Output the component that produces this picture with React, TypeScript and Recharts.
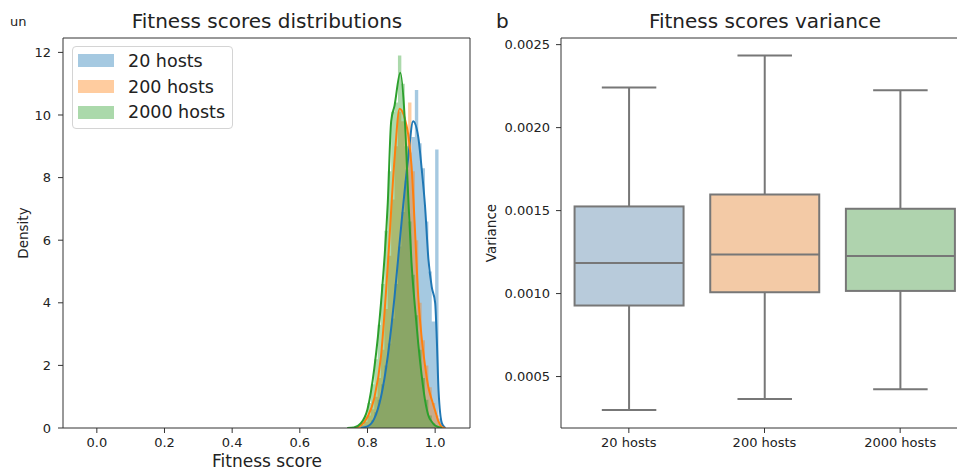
import React from 'react';
import { ComposedChart, Area, Line, Bar, XAxis, YAxis, ReferenceLine, Legend } from 'recharts';

const FONT = '"DejaVu Sans", Verdana, sans-serif';
const AXIS = '#333';
const TEXT = '#222';

const SERIES = ['20 hosts', '200 hosts', '2000 hosts'];
const COLORS = ['#1f77b4', '#ff7f0e', '#2ca02c'];
const BOX_FILLS = ['#b8cbdb', '#f3caa6', '#afd3ae'];

const X_TICKS = [0, 0.2, 0.4, 0.6, 0.8, 1.0];
const DENSITY_TICKS = [0, 2, 4, 6, 8, 10, 12];
const VARIANCE_TICKS = [0.0005, 0.001, 0.0015, 0.002, 0.0025];

// histogram bins: [left edge, density], last entry closes the final bin
const HIST_20: [number, number][] = [
  [0.8, 0.1], [0.81, 0.25], [0.82, 0.5], [0.83, 0.9], [0.84, 1.4], [0.85, 2.0], [0.86, 2.7],
  [0.87, 3.5], [0.88, 4.6], [0.89, 5.8], [0.9, 6.9], [0.91, 7.9], [0.92, 8.8], [0.93, 9.3],
  [0.94, 10.8], [0.95, 9.1], [0.96, 8.3], [0.97, 6.6], [0.98, 5.0], [0.99, 3.4], [1.0, 8.9],
  [1.01, 0.3], [1.02, 0],
];
const HIST_200: [number, number][] = [
  [0.78, 0.1], [0.79, 0.2], [0.8, 0.4], [0.81, 0.6], [0.82, 1.0], [0.83, 1.6], [0.84, 2.5],
  [0.85, 3.8], [0.86, 5.5], [0.87, 7.3], [0.88, 9.0], [0.89, 10.1], [0.9, 9.8], [0.91, 9.6],
  [0.92, 10.4], [0.93, 8.2], [0.94, 6.0], [0.95, 4.0], [0.96, 2.8], [0.97, 2.0], [0.98, 1.3],
  [0.99, 0.8], [1.0, 0.4], [1.01, 0.1], [1.02, 0],
];
const HIST_2000: [number, number][] = [
  [0.77, 0.05], [0.78, 0.15], [0.79, 0.4], [0.8, 0.8], [0.81, 1.4], [0.82, 2.2], [0.83, 3.3],
  [0.84, 4.6], [0.85, 6.3], [0.86, 8.2], [0.87, 10.1], [0.88, 10.4], [0.89, 11.9], [0.9, 11.0],
  [0.91, 9.0], [0.92, 6.6], [0.93, 4.9], [0.94, 3.6], [0.95, 2.5], [0.96, 1.6], [0.97, 0.9],
  [0.98, 0.4], [0.99, 0.15], [1.0, 0],
];

// kernel density curves: [score, density]
const KDE_20: [number, number][] = [
  [0.78, 0], [0.8, 0.05], [0.82, 0.3], [0.84, 1.0], [0.86, 2.3], [0.88, 4.2], [0.9, 6.5],
  [0.92, 8.6], [0.935, 9.8], [0.95, 9.3], [0.96, 8.3], [0.97, 7.1], [0.98, 5.4], [0.99, 4.5],
  [1.0, 4.0], [1.005, 2.8], [1.01, 1.2], [1.02, 0.15], [1.03, 0],
];
const KDE_200: [number, number][] = [
  [0.76, 0], [0.78, 0.08], [0.8, 0.35], [0.82, 0.95], [0.84, 2.3], [0.86, 5.2], [0.88, 8.6],
  [0.895, 10.2], [0.91, 9.9], [0.92, 9.4], [0.93, 8.4], [0.94, 6.4], [0.95, 4.2], [0.96, 2.9],
  [0.97, 2.0], [0.98, 1.3], [0.99, 0.9], [1.0, 0.55], [1.01, 0.2], [1.02, 0.03], [1.03, 0],
];
const KDE_2000: [number, number][] = [
  [0.74, 0], [0.76, 0.02], [0.78, 0.15], [0.8, 0.6], [0.82, 1.9], [0.84, 4.0], [0.86, 7.2],
  [0.87, 9.8], [0.88, 10.3], [0.897, 11.35], [0.91, 9.9], [0.92, 7.5], [0.93, 5.3], [0.94, 3.9],
  [0.95, 2.7], [0.96, 1.7], [0.97, 0.9], [0.98, 0.4], [0.99, 0.2], [1.0, 0.08], [1.02, 0],
];

// box plot statistics per host count
const WHISKER_LOW = [0.000298, 0.000364, 0.000424];
const Q1 = [0.000928, 0.001008, 0.001016];
const MEDIAN = [0.001184, 0.001236, 0.001226];
const Q3 = [0.001525, 0.001597, 0.001511];
const WHISKER_HIGH = [0.002241, 0.002434, 0.002225];

const HISTS = [HIST_20, HIST_200, HIST_2000];
const KDES = [KDE_20, KDE_200, KDE_2000];

const toPoints = (pairs: [number, number][]) => pairs.map(([x, y]) => ({ x, y }));

const boxRows = SERIES.map((name, i) => ({
  name,
  low: WHISKER_LOW[i],
  q1: Q1[i],
  median: MEDIAN[i],
  q3: Q3[i],
  high: WHISKER_HIGH[i],
  fill: BOX_FILLS[i],
}));

const tickStyle = { fill: TEXT, fontSize: 13, fontFamily: FONT };

function LegendBox() {
  return (
    <div
      style={{
        width: 161,
        height: 83,
        boxSizing: 'border-box',
        border: '1px solid #d4d4d4',
        borderRadius: 4,
        background: 'rgba(255,255,255,0.8)',
        fontFamily: FONT,
        fontSize: 17.5,
        color: TEXT,
        paddingTop: 1,
      }}
    >
      {SERIES.map((s, i) => (
        <div key={s} style={{ display: 'flex', alignItems: 'center', height: 25.8 }}>
          <span
            style={{
              display: 'inline-block',
              width: 36,
              height: 13,
              marginLeft: 5,
              marginRight: 14,
              background: COLORS[i],
              opacity: 0.4,
            }}
          />
          <span>{s}</span>
        </div>
      ))}
    </div>
  );
}

function DistChart() {
  return (
    <ComposedChart width={480} height={471} margin={{ top: 38, right: 10, bottom: 0, left: 0 }}>
      <XAxis
        dataKey="x"
        type="number"
        domain={[-0.1, 1.103]}
        ticks={X_TICKS}
        allowDataOverflow
        tickFormatter={(v: number) => v.toFixed(1)}
        height={43}
        tickSize={5}
        tickMargin={5}
        stroke={AXIS}
        tick={tickStyle}
      />
      <YAxis
        type="number"
        domain={[0, 12.46]}
        ticks={DENSITY_TICKS}
        allowDataOverflow
        width={63}
        tickSize={5}
        tickMargin={7}
        stroke={AXIS}
        tick={tickStyle}
      />
      {SERIES.map((name, i) => (
        <React.Fragment key={name}>
          <Area
            data={toPoints(HISTS[i])}
            dataKey="y"
            type="stepAfter"
            fill={COLORS[i]}
            fillOpacity={0.4}
            stroke="none"
            isAnimationActive={false}
          />
          <Line
            data={toPoints(KDES[i])}
            dataKey="y"
            type="monotone"
            stroke={COLORS[i]}
            strokeWidth={2}
            dot={false}
            isAnimationActive={false}
          />
        </React.Fragment>
      ))}
      <ReferenceLine y={12.46} stroke={AXIS} />
      <ReferenceLine x={1.103} stroke={AXIS} />
      <Legend
        layout="vertical"
        align="center"
        verticalAlign="middle"
        content={() => <LegendBox />}
        wrapperStyle={{ position: 'absolute', top: 46, left: 72, width: 161, height: 83 }}
      />
    </ComposedChart>
  );
}

function BoxShape(props: any) {
  const { x, y, width, height, payload } = props;
  const span = payload.high - payload.low;
  const py = (v: number) => y + (height * (payload.high - v)) / span;
  const cx = x + width / 2;
  const cap = width / 4;
  const stroke = '#777';
  return (
    <g>
      <line x1={cx} x2={cx} y1={py(payload.high)} y2={py(payload.q3)} stroke={stroke} strokeWidth={2} />
      <line x1={cx} x2={cx} y1={py(payload.q1)} y2={py(payload.low)} stroke={stroke} strokeWidth={2} />
      <line x1={cx - cap} x2={cx + cap} y1={py(payload.high)} y2={py(payload.high)} stroke={stroke} strokeWidth={2} />
      <line x1={cx - cap} x2={cx + cap} y1={py(payload.low)} y2={py(payload.low)} stroke={stroke} strokeWidth={2} />
      <rect
        x={x}
        y={py(payload.q3)}
        width={width}
        height={py(payload.q1) - py(payload.q3)}
        fill={payload.fill}
        stroke={stroke}
        strokeWidth={2}
      />
      <line x1={x} x2={x + width} y1={py(payload.median)} y2={py(payload.median)} stroke={stroke} strokeWidth={2} />
    </g>
  );
}

function VarianceChart() {
  return (
    <ComposedChart width={500} height={471} data={boxRows} margin={{ top: 38, right: 12, bottom: 0, left: 0 }}>
      <XAxis dataKey="name" height={43} tickSize={5} tickMargin={5} stroke={AXIS} tick={tickStyle} />
      <YAxis
        type="number"
        domain={[0.00019, 0.00254]}
        ticks={VARIANCE_TICKS}
        allowDataOverflow
        width={81}
        tickSize={5}
        tickMargin={6}
        stroke={AXIS}
        tick={tickStyle}
        tickFormatter={(v: number) => v.toFixed(4)}
      />
      <Bar dataKey={(d: any) => [d.low, d.high]} shape={BoxShape} isAnimationActive={false} />
      <ReferenceLine y={0.00254} stroke={AXIS} />
    </ComposedChart>
  );
}

export default function App() {
  return (
    <div
      style={{
        position: 'absolute',
        left: 0,
        top: 0,
        width: 957,
        height: 471,
        overflow: 'hidden',
        background: '#fff',
        fontFamily: FONT,
      }}
    >
      <div style={{ position: 'absolute', left: 0, top: 0 }}>
        <DistChart />
      </div>
      <div style={{ position: 'absolute', left: 480, top: 0 }}>
        <VarianceChart />
      </div>
      <svg
        width={957}
        height={471}
        style={{ position: 'absolute', left: 0, top: 0, pointerEvents: 'none' }}
        fontFamily={FONT}
        fill={TEXT}
      >
        <text x={10} y={26} fontSize={13}>un</text>
        <text x={267} y={28} fontSize={20} textAnchor="middle">Fitness scores distributions</text>
        <text x={496} y={28} fontSize={20}>b</text>
        <text x={765} y={28} fontSize={20} textAnchor="middle">Fitness scores variance</text>
        <text x={267} y={467} fontSize={17} textAnchor="middle">Fitness score</text>
        <text x={28} y={233} fontSize={13.5} textAnchor="middle" transform="rotate(-90 28 233)">Density</text>
        <text x={496} y={233} fontSize={13.5} textAnchor="middle" transform="rotate(-90 496 233)">Variance</text>
      </svg>
    </div>
  );
}
